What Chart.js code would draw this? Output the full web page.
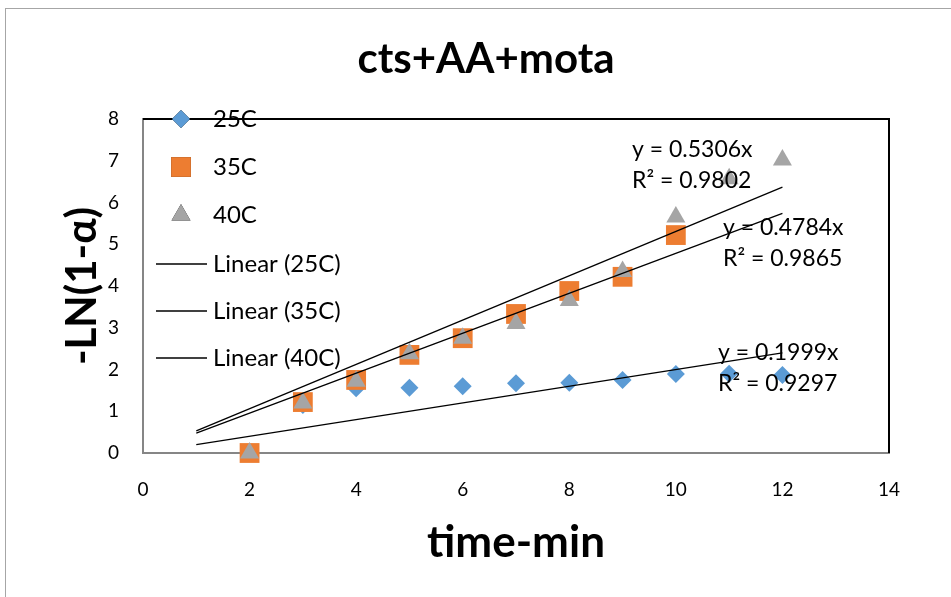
<!DOCTYPE html>
<html>
<head>
<meta charset="utf-8">
<script src="https://cdn.jsdelivr.net/npm/chart.js@4.4.0/dist/chart.umd.min.js"></script>
<style>
  html, body { margin: 0; padding: 0; background: #fff; }
  #wrap { position: relative; width: 951px; height: 597px; }
</style>
</head>
<body>
<div id="wrap"><canvas id="kinetics" width="951" height="597"></canvas></div>
<script>
// values
const TIME = [2, 3, 4, 5, 6, 7, 8, 9, 10, 11, 12];
const S25C = [0, 1.15, 1.55, 1.56, 1.6, 1.67, 1.68, 1.75, 1.89, 1.9, 1.87];
const S35C = [0, 1.22, 1.75, 2.35, 2.75, 3.33, 3.88, 4.22, 5.22, null, null];
const S40C = [0, 1.2, 1.72, 2.38, 2.75, 3.1, 3.65, 4.35, 5.65, 6.57, 7.02];
const SERIES_NAMES = ["25C", "35C", "40C"];
const TREND_SLOPES = [0.1999, 0.4784, 0.5306];
const TREND_R2 = [0.9297, 0.9865, 0.9802];
const TREND_X = [1, 12];

const FONT = "Lato, 'Open Sans', sans-serif";
const COLORS = ["#5b9bd5", "#ed7d31", "#a5a5a5"];

const toPoints = (ys) =>
  TIME.map((t, i) => ({ x: t, y: ys[i] })).filter((p) => p.y !== null);

const trendPoints = (slope) => TREND_X.map((x) => ({ x: x, y: slope * x }));

// pixel spots of the equation boxes (same as in excel)
const EQ_LABELS = [
  { series: 2, x: 632, y: 150 },
  { series: 1, x: 723, y: 228 },
  { series: 0, x: 718, y: 353 },
];

const frame = {
  id: "frame",
  beforeDraw(chart) {
    const ctx = chart.ctx;
    ctx.save();
    ctx.strokeStyle = "#a6a6a6";
    ctx.lineWidth = 1;
    ctx.strokeRect(5.5, 8.5, 1000, 700);
    ctx.restore();
  },
  beforeDatasetsDraw(chart) {
    const { ctx, chartArea: a } = chart;
    ctx.save();
    ctx.strokeStyle = "#000";
    ctx.lineWidth = 2;
    ctx.beginPath();
    ctx.moveTo(a.left, a.top);
    ctx.lineTo(a.right, a.top);
    ctx.lineTo(a.right, a.bottom);
    ctx.stroke();
    ctx.restore();
  },
  afterDraw(chart) {
    const ctx = chart.ctx;
    ctx.save();
    // title
    ctx.fillStyle = "#000";
    ctx.font = "bold 42px " + FONT;
    ctx.textAlign = "center";
    ctx.textBaseline = "alphabetic";
    ctx.fillText("cts+AA+mota", 486, 73);

    // legend
    ctx.textBaseline = "middle";
    ctx.font = "24px " + FONT;
    ctx.textAlign = "left";
    const rowY = [119, 167, 215, 264, 311, 358];
    chart.data.datasets.forEach((ds, i) => {
      const y = rowY[i];
      if (ds.isTrend) {
        ctx.strokeStyle = "#000";
        ctx.lineWidth = 1.3;
        ctx.beginPath();
        ctx.moveTo(156, y);
        ctx.lineTo(207, y);
        ctx.stroke();
      } else {
        Chart.helpers.drawPoint(
          ctx,
          {
            pointStyle: ds.pointStyle,
            radius: ds.pointRadius,
            borderWidth: 0,
            rotation: 0,
          },
          181,
          y,
        );
        ctx.fillStyle = ds.backgroundColor;
        ctx.fill();
      }
      ctx.fillStyle = "#000";
      ctx.fillText(ds.label, 213, y);
    });

    // trendline equations
    ctx.font = "23px " + FONT;
    EQ_LABELS.forEach((l) => {
      ctx.fillText("y = " + TREND_SLOPES[l.series].toFixed(4) + "x", l.x, l.y);
      ctx.fillText("R² = " + TREND_R2[l.series].toFixed(4), l.x, l.y + 31);
    });
    ctx.restore();
  },
};

const markerSets = [S25C, S35C, S40C].map((vals, i) => ({
  label: SERIES_NAMES[i],
  data: toPoints(vals),
  pointStyle: ["rectRot", "rect", "triangle"][i],
  pointRadius: [9, 14, 11][i],
  pointHoverRadius: [9, 14, 11][i],
  backgroundColor: COLORS[i],
  borderColor: COLORS[i],
  pointBorderWidth: 0,
  showLine: false,
  clip: false,
  order: 3 - i,
}));

const trendSets = TREND_SLOPES.map((s, i) => ({
  label: "Linear (" + SERIES_NAMES[i] + ")",
  data: trendPoints(s),
  isTrend: true,
  type: "line",
  borderColor: "#000",
  borderWidth: 1.3,
  pointRadius: 0,
  fill: false,
  tension: 0,
  order: 0,
}));

new Chart(document.getElementById("kinetics"), {
  type: "scatter",
  data: { datasets: [...markerSets, ...trendSets] },
  options: {
    responsive: false,
    animation: false,
    layout: { padding: { top: 119, right: 62, left: 0, bottom: 0 } },
    plugins: {
      legend: { display: false },
      title: { display: false },
      tooltip: { enabled: false },
    },
    scales: {
      x: {
        type: "linear",
        min: 0,
        max: 14,
        afterFit: (s) => { s.height = 144; },
        ticks: { stepSize: 2, color: "#000", padding: 25, font: { family: FONT, size: 19 } },
        grid: { drawOnChartArea: false, drawTicks: false },
        border: { color: "#868686", width: 2 },
        title: {
          display: true,
          text: "time-min",
          color: "#000",
          font: { family: FONT, size: 44, weight: "bold" },
          padding: { top: 0, bottom: 28 },
        },
      },
      y: {
        type: "linear",
        min: 0,
        max: 8,
        afterFit: (s) => { s.width = 143; },
        ticks: { stepSize: 1, color: "#000", padding: 24, font: { family: FONT, size: 19 } },
        grid: { drawOnChartArea: false, drawTicks: false },
        border: { color: "#868686", width: 2 },
        title: {
          display: true,
          text: "-LN(1-α)",
          color: "#000",
          font: { family: FONT, size: 42, weight: "bold" },
          padding: { top: 57, bottom: 0 },
        },
      },
    },
  },
  plugins: [frame],
});
</script>
</body>
</html>
